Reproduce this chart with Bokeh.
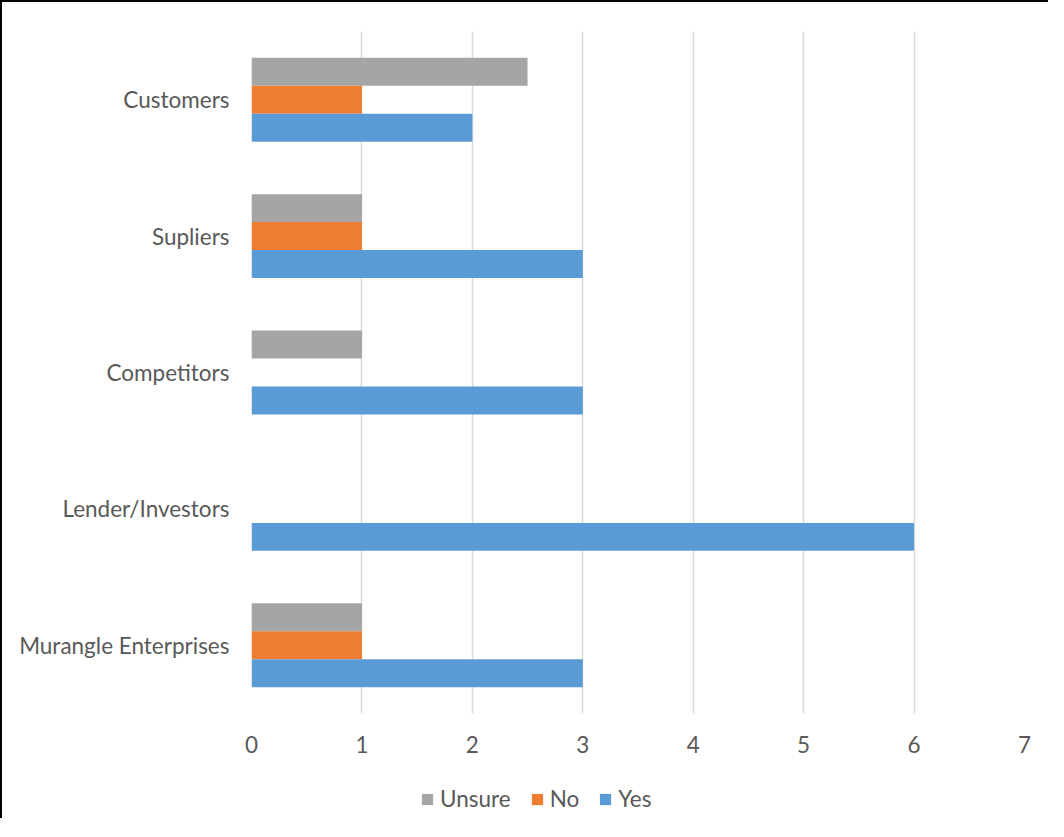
from bokeh.plotting import figure
from bokeh.models import FactorRange, Range1d, Legend, LegendItem, FixedTicker, ColumnDataSource
from bokeh.layouts import column
from bokeh.transform import dodge
from bokeh.embed import file_html
from bokeh.resources import INLINE

# ---- data (categories listed bottom to top) ----
categories = ["Murangle Enterprises", "Lender/Investors", "Competitors", "Supliers", "Customers"]
unsure = [1, 0, 1, 1, 2.5]
no = [1, 0, 0, 1, 1]
yes = [3, 6, 3, 3, 2]
x_ticks = [0, 1, 2, 3, 4, 5, 6, 7]
series_names = ["Unsure", "No", "Yes"]
series_colors = ["#A5A5A5", "#ED7D31", "#5B9BD5"]

FONT = "Lato"
TEXT_COLOR = "#595959"
FS = "22.5px"

source = ColumnDataSource(dict(cat=categories, unsure=unsure, no=no, yes=yes))

p = figure(
    y_range=FactorRange(factors=categories, range_padding=0),
    x_range=Range1d(0, 7),
    width=1046, height=766,
    min_border_left=249, min_border_right=24, min_border_top=29, min_border_bottom=55,
    output_backend="svg", toolbar_location=None,
    outline_line_color=None,
)

bh = 0.205
offsets = [bh, 0, -bh]
cols = ["unsure", "no", "yes"]
for col, off, color in zip(cols, offsets, series_colors):
    p.hbar(y=dodge("cat", off, range=p.y_range), right=col, left=0, height=bh,
           source=source, color=color, line_color=None)

# grid
p.ygrid.grid_line_color = None
p.xgrid.grid_line_color = "#D9D9D9"
p.xgrid.grid_line_width = 1.5
p.xaxis.ticker = FixedTicker(ticks=x_ticks)

for ax in (p.xaxis, p.yaxis):
    ax.axis_line_color = None
    ax.major_tick_line_color = None
    ax.minor_tick_line_color = None
    ax.major_label_text_font = FONT
    ax.major_label_text_color = TEXT_COLOR
    ax.major_label_text_font_size = FS
p.yaxis.major_label_standoff = 16
p.xaxis.major_label_standoff = 16

# ---- legend strip below the chart (frame aligned with the chart frame) ----
lf = figure(
    width=1046, height=50,
    x_range=Range1d(0, 1), y_range=Range1d(0, 1),
    min_border_left=0, min_border_right=0, min_border_top=0, min_border_bottom=0,
    x_axis_location=None, y_axis_location=None,
    output_backend="svg", toolbar_location=None,
    outline_line_color=None,
)
lf.xgrid.grid_line_color = None
lf.ygrid.grid_line_color = None

# legend proxies: one row of NaN, so nothing is drawn in the strip itself
proxy = ColumnDataSource(dict(y=[float("nan")], right=[float("nan")]))
items = []
for name, color in zip(series_names, series_colors):
    r = lf.hbar(y="y", right="right", left=0, height=0.1, source=proxy,
                color=color, line_color=None)
    items.append(LegendItem(label=name, renderers=[r]))

legend = Legend(
    items=items,
    orientation="horizontal",
    location=(169, 6),
    padding=0, margin=0, spacing=19,
    glyph_width=14, glyph_height=14,
    label_text_font=FONT, label_text_color=TEXT_COLOR, label_text_font_size=FS,
    label_standoff=6,
    border_line_color=None, background_fill_alpha=0,
)
lf.add_layout(legend, "center")

lay = column(p, lf, spacing=0)
lay.styles = {"border-left": "2px solid black", "border-top": "2px solid black"}

open("out.html", "w").write(file_html(lay, INLINE))
